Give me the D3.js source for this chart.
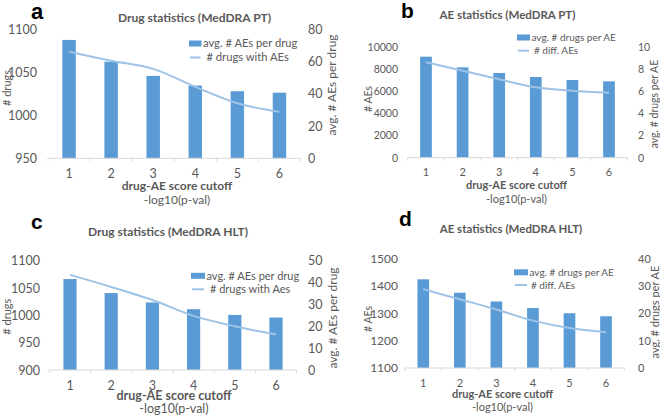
<!DOCTYPE html>
<html><head><meta charset="utf-8">
<script src="https://cdn.jsdelivr.net/npm/d3@7"></script>
<style>
body{margin:0;background:#fff}
text{font-family:Lato,'Open Sans',sans-serif}
</style>
</head><body>
<svg id="chart" width="660" height="415"></svg>
<script>
// ---------- data ----------
const categories = ["1","2","3","4","5","6"];

// panel a: Drug statistics (MedDRA PT)
const aAvgAEsPerDrug = [73.4, 59.9, 51.1, 45.1, 41.6, 40.7];
const aDrugsWithAEs  = [1074, 1063.5, 1054, 1033, 1014, 1004];
const aLeftTicks  = [950, 1000, 1050, 1100];
const aRightTicks = [0, 20, 40, 60, 80];

// panel b: AE statistics (MedDRA PT)
const bAvgDrugsPerAE = [9.1, 8.14, 7.63, 7.27, 7.0, 6.88];
const bDiffAEs       = [8600, 7840, 7060, 6340, 6040, 5860];
const bLeftTicks  = [0, 2000, 4000, 6000, 8000, 10000];
const bRightTicks = [0, 2, 4, 6, 8, 10];

// panel c: Drug statistics (MedDRA HLT)
const cAvgAEsPerDrug = [41.6, 35.2, 30.9, 27.8, 25.2, 24.0];
const cDrugsWithAEs  = [1074, 1052, 1028, 999, 980, 965];
const cLeftTicks  = [900, 950, 1000, 1050, 1100];
const cRightTicks = [0, 10, 20, 30, 40, 50];

// panel d: AE statistics (MedDRA HLT)
const dAvgDrugsPerAE = [32.4, 27.5, 24.3, 21.9, 20.0, 18.9];
const dDiffAEs       = [1388, 1351, 1314, 1273, 1246, 1231];
const dLeftTicks  = [1100, 1200, 1300, 1400, 1500];
const dRightTicks = [0, 10, 20, 30, 40];

// ---------- drawing ----------
const svg = d3.select("#chart");
svg.append("rect").attr("width",660).attr("height",415).attr("fill","#fff");

const BAR = "#5B9BD5", LINE = "#9DC3E6", TXT = "#595959", AXIS = "#D9D9D9";

function panel(cfg, barVals, lineVals, leftTicks, rightTicks) {
  const g = svg.append("g");
  const x = d3.scaleBand().domain(categories).range([cfg.x0, cfg.x1]);
  const yL = d3.scaleLinear().domain([leftTicks[0], leftTicks[leftTicks.length-1]]).range([cfg.yBot, cfg.yTop]);
  const yR = d3.scaleLinear().domain([rightTicks[0], rightTicks[rightTicks.length-1]]).range([cfg.yBot, cfg.yTop]);
  const bw = x.bandwidth(), frac = 0.32;

  // letter
  g.append("text").attr("x", cfg.lx).attr("y", cfg.ly).text(cfg.letter)
    .style("font-family","'Liberation Sans',Arial,sans-serif").style("font-weight","bold")
    .style("font-size", cfg.lsize + "px").attr("fill","#000");
  // title
  g.append("text").attr("x", cfg.tx).attr("y", cfg.ty).attr("text-anchor","middle")
    .style("font-weight","bold").style("font-size",cfg.tSize+"px").attr("fill",TXT).text(cfg.title);

  // left axis
  const la = g.append("g").attr("transform",`translate(${cfg.leftLabelX},0)`)
    .call(d3.axisLeft(yL).tickValues(leftTicks).tickSize(0).tickPadding(0).tickFormat(d3.format("d")));
  la.select(".domain").remove();
  la.selectAll("text").style("font-family","Lato").style("font-size",cfg.tkL+"px").attr("fill",TXT);
  // right axis
  const ra = g.append("g").attr("transform",`translate(${cfg.rightLabelX},0)`)
    .call(d3.axisRight(yR).tickValues(rightTicks).tickSize(0).tickPadding(0));
  ra.select(".domain").remove();
  ra.selectAll("text").style("font-family","Lato").style("font-size",cfg.tkR+"px").attr("fill",TXT);

  // bars
  g.selectAll("rect.bar").data(barVals).join("rect").attr("class","bar")
    .attr("x",(d,i)=>x(categories[i]) + bw*(1-frac)/2).attr("width", bw*frac)
    .attr("y", d=>yR(d)).attr("height", d=>cfg.yBot - yR(d)).attr("fill",BAR);

  // bottom axis
  const ba = g.append("g").attr("transform",`translate(0,${cfg.yBot})`)
    .call(d3.axisBottom(x).tickSize(0).tickPadding(cfg.catPad));
  ba.select(".domain").remove();
  ba.selectAll("text").style("font-family","Lato").style("font-size",cfg.tkB+"px").attr("fill",TXT);
  g.append("line").attr("x1",cfg.x0).attr("x2",cfg.x1).attr("y1",cfg.yBot).attr("y2",cfg.yBot)
    .attr("stroke",AXIS).attr("stroke-width",1);
  const bounds = categories.map(c=>x(c)).concat([cfg.x1]);
  g.selectAll("line.tk").data(bounds).join("line").attr("class","tk")
    .attr("x1",d=>d).attr("x2",d=>d).attr("y1",cfg.yBot).attr("y2",cfg.yBot+3)
    .attr("stroke",AXIS);

  // line
  const lineGen = d3.line().x((d,i)=>x(categories[i]) + bw/2).y(d=>yL(d)).curve(d3.curveCatmullRom.alpha(0.5));
  g.append("path").attr("d", lineGen(lineVals)).attr("fill","none").attr("stroke",LINE).attr("stroke-width",2);

  // axis titles
  g.append("text").attr("transform",`translate(${cfg.ltX},${cfg.ltY}) rotate(-90)`)
    .attr("text-anchor","middle").attr("dominant-baseline","central")
    .style("font-size",cfg.ltSize+"px").attr("fill",TXT).text(cfg.leftTitle);
  g.append("text").attr("transform",`translate(${cfg.rtX},${cfg.rtY}) rotate(-90)`)
    .attr("text-anchor","middle").attr("dominant-baseline","central")
    .style("font-size",cfg.rtSize+"px").attr("fill",TXT).text(cfg.rightTitle);
  g.append("text").attr("x",cfg.xtX).attr("y",cfg.xtY).attr("text-anchor","middle")
    .style("font-weight","bold").style("font-size",cfg.xtSize+"px").attr("fill",TXT).text("drug-AE score cutoff");
  g.append("text").attr("x",cfg.xtX).attr("y",cfg.xsY).attr("text-anchor","middle")
    .style("font-size",cfg.xtSize+"px").attr("fill",TXT).text("-log10(p-val)");

  // legend
  g.append("rect").attr("x",cfg.lgX).attr("y",cfg.lgY1-3).attr("width",cfg.lgW).attr("height",6).attr("fill",BAR);
  g.append("text").attr("x",cfg.lgX+cfg.lgW+1.5).attr("y",cfg.lgY1).attr("dy","0.35em")
    .style("font-size",cfg.lgSize+"px").attr("fill",TXT).text(cfg.legBar);
  g.append("line").attr("x1",cfg.lgX+1).attr("x2",cfg.lgX+cfg.lgW-1).attr("y1",cfg.lgY2).attr("y2",cfg.lgY2)
    .attr("stroke",LINE).attr("stroke-width",2);
  g.append("text").attr("x",cfg.lgX+cfg.lgW+cfg.lgGap).attr("y",cfg.lgY2).attr("dy","0.35em")
    .style("font-size",cfg.lgSize+"px").attr("fill",TXT).text(cfg.legLine);
}

panel({letter:"a", lx:31, ly:18.5, lsize:22, title:"Drug statistics (MedDRA PT)", tx:194.5, ty:22, tSize:12,
  x0:48, x1:300.5, yTop:29.3, yBot:158.3, leftLabelX:37, rightLabelX:308, catPad:11,
  tkL:12.5, tkR:12.5, tkB:12.5,
  leftTitle:"# drugs", ltX:6, ltY:88, ltSize:11, rightTitle:"avg. # AEs per drug", rtX:331.5, rtY:85, rtSize:12,
  xtX:177, xtY:190, xsY:203.5, xtSize:12,
  lgX:189, lgY1:43.5, lgY2:57.5, lgW:12.5, lgGap:5, lgSize:11.2, legBar:"avg. # AEs per drug", legLine:"# drugs with AEs"},
  aAvgAEsPerDrug, aDrugsWithAEs, aLeftTicks, aRightTicks);

panel({letter:"b", lx:401, ly:18, lsize:21, title:"AE statistics (MedDRA PT)", tx:507.5, ty:19, tSize:11.5,
  x0:407.7, x1:627.3, yTop:46.7, yBot:157.7, leftLabelX:398, rightLabelX:638, catPad:11,
  tkL:10.5, tkR:10.5, tkB:11,
  leftTitle:"# AEs", ltX:367.5, ltY:99, ltSize:10.5, rightTitle:"avg. # drugs per AE", rtX:654, rtY:104, rtSize:10.5,
  xtX:516.5, xtY:189, xsY:202.5, xtSize:11,
  lgX:517, lgY1:37.5, lgY2:50.7, lgW:13, lgGap:4, lgSize:10, legBar:"avg. # drugs per AE", legLine:"# diff. AEs"},
  bAvgDrugsPerAE, bDiffAEs, bLeftTicks, bRightTicks);

panel({letter:"c", lx:31, ly:229, lsize:21, title:"Drug statistics (MedDRA HLT)", tx:168, ty:236, tSize:12,
  x0:49.4, x1:296.6, yTop:260.7, yBot:370, leftLabelX:40, rightLabelX:308, catPad:11,
  tkL:12.5, tkR:12.5, tkB:12.5,
  leftTitle:"# drugs", ltX:6, ltY:316.7, ltSize:11, rightTitle:"avg. # AEs per drug", rtX:332, rtY:318, rtSize:12,
  xtX:174, xtY:399.5, xsY:413, xtSize:12.5,
  lgX:191, lgY1:275.8, lgY2:289.3, lgW:14, lgGap:5, lgSize:11, legBar:"avg. # AEs per drug", legLine:"# drugs with Aes"},
  cAvgAEsPerDrug, cDrugsWithAEs, cLeftTicks, cRightTicks);

panel({letter:"d", lx:399, ly:225.7, lsize:21, title:"AE statistics (MedDRA HLT)", tx:511, ty:233.3, tSize:11.5,
  x0:405, x1:624.3, yTop:258.5, yBot:368, leftLabelX:398, rightLabelX:638, catPad:11,
  tkL:12, tkR:11, tkB:11,
  leftTitle:"# AEs", ltX:367.5, ltY:319, ltSize:10.5, rightTitle:"avg. # drugs per AE", rtX:654.5, rtY:312, rtSize:11,
  xtX:502.5, xtY:398, xsY:410.5, xtSize:11,
  lgX:514, lgY1:272.3, lgY2:285, lgW:14, lgGap:3, lgSize:10, legBar:"avg. # drugs per AE", legLine:"# diff. AEs"},
  dAvgDrugsPerAE, dDiffAEs, dLeftTicks, dRightTicks);
</script>
</body></html>
